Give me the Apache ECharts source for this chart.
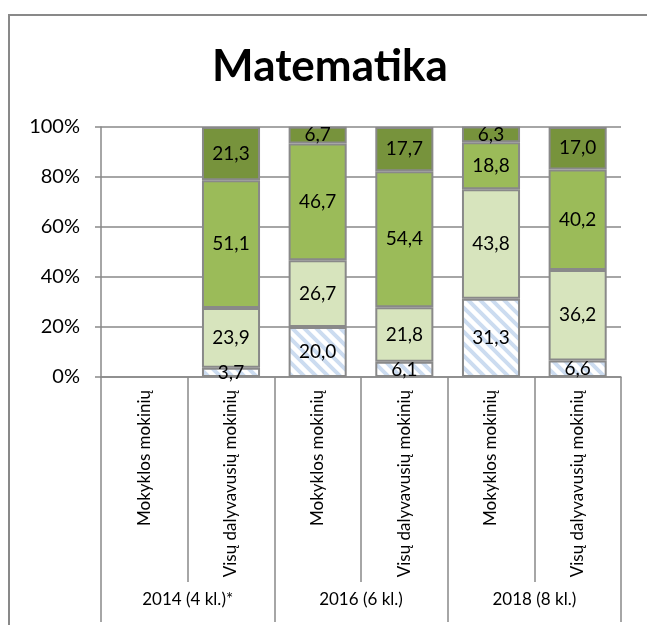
<!DOCTYPE html>
<html>
<head>
<meta charset="utf-8">
<script src="https://cdn.jsdelivr.net/npm/echarts@6/dist/echarts.min.js"></script>
<style>
  html, body { margin: 0; padding: 0; background: #fff; }
  #chart { width: 647px; height: 625px; }
</style>
</head>
<body>
<div id="chart"></div>
<script>
const categories = ["Mokyklos mokinių", "Visų dalyvavusių mokinių", "Mokyklos mokinių", "Visų dalyvavusių mokinių", "Mokyklos mokinių", "Visų dalyvavusių mokinių"];
const groups = ["2014 (4 kl.)*", "2016 (6 kl.)", "2018 (8 kl.)"];
// stacked from bottom to top
const lowest = [null, 3.7, 20.0, 6.1, 31.3, 6.6];
const basic = [null, 23.9, 26.7, 21.8, 43.8, 36.2];
const middle = [null, 51.1, 46.7, 54.4, 18.8, 40.2];
const top4 = [null, 21.3, 6.7, 17.7, 6.3, 17.0];

const gray = "#898989";
const font = "Lato, 'Open Sans', sans-serif";

// diagonal stripe fill for the lowest level
function stripes() {
  const c = document.createElement("canvas");
  c.width = 12;
  c.height = 12;
  const ctx = c.getContext("2d");
  ctx.fillStyle = "#fff";
  ctx.fillRect(0, 0, 12, 12);
  ctx.strokeStyle = "#ccdcf0";
  ctx.lineWidth = 4;
  ctx.beginPath();
  ctx.moveTo(-3, -3); ctx.lineTo(15, 15);
  ctx.moveTo(-3, 9); ctx.lineTo(3, 15);
  ctx.moveTo(9, -3); ctx.lineTo(15, 3);
  ctx.stroke();
  return c;
}

function fmt(p) {
  return p.value == null ? "" : p.value.toFixed(1).replace(".", ",");
}

function bar(name, data, color) {
  return {
    name: name,
    type: "bar",
    stack: "all",
    barCategoryGap: "33%",
    xAxisIndex: 0,
    data: data,
    itemStyle: { color: color, borderColor: gray, borderWidth: 2 },
    label: {
      show: true,
      position: "inside",
      formatter: fmt,
      color: "#000",
      fontFamily: font,
      fontSize: 19
    }
  };
}

const chart = echarts.init(document.getElementById("chart"));
chart.setOption({
  animation: false,
  graphic: [
    {
      type: "rect",
      shape: { x: 9, y: 15, width: 700, height: 700 },
      style: { fill: "none", stroke: gray, lineWidth: 2 }
    },
    {
      type: "text",
      x: 330,
      y: 67,
      style: {
        text: "Matematika",
        font: "bold 44px " + font,
        fill: "#000",
        textAlign: "center",
        textVerticalAlign: "middle"
      }
    }
  ],
  grid: { left: 101, right: 26, top: 127, bottom: 248 },
  xAxis: [
    {
      type: "category",
      data: categories,
      axisLine: { show: true, lineStyle: { color: gray, width: 1.5 } },
      axisTick: { show: true, interval: 0, length: 205, lineStyle: { color: gray, width: 1.5 } },
      axisLabel: { interval: 0, rotate: 90, margin: 13, color: "#000", fontFamily: font, fontSize: 17 }
    },
    {
      type: "category",
      data: groups,
      position: "bottom",
      axisLine: { show: false },
      axisTick: { show: true, interval: 0, length: 245, lineStyle: { color: gray, width: 1.5 } },
      axisLabel: { interval: 0, margin: 214, color: "#000", fontFamily: font, fontSize: 17 }
    }
  ],
  yAxis: {
    type: "value",
    min: 0,
    max: 100,
    interval: 20,
    axisLine: { show: true, lineStyle: { color: gray, width: 1.5 } },
    axisTick: { show: true, length: 6, lineStyle: { color: gray, width: 1.5 } },
    axisLabel: { formatter: "{value}%", margin: 21, color: "#000", fontFamily: font, fontSize: 20 },
    splitLine: { show: true, lineStyle: { color: gray, width: 1.5 } }
  },
  series: [
    bar("lowest", lowest, { image: stripes(), repeat: "repeat" }),
    bar("basic", basic, "#d7e4bd"),
    bar("middle", middle, "#9bbb59"),
    bar("top", top4, "#77933c")
  ]
});
</script>
</body>
</html>
